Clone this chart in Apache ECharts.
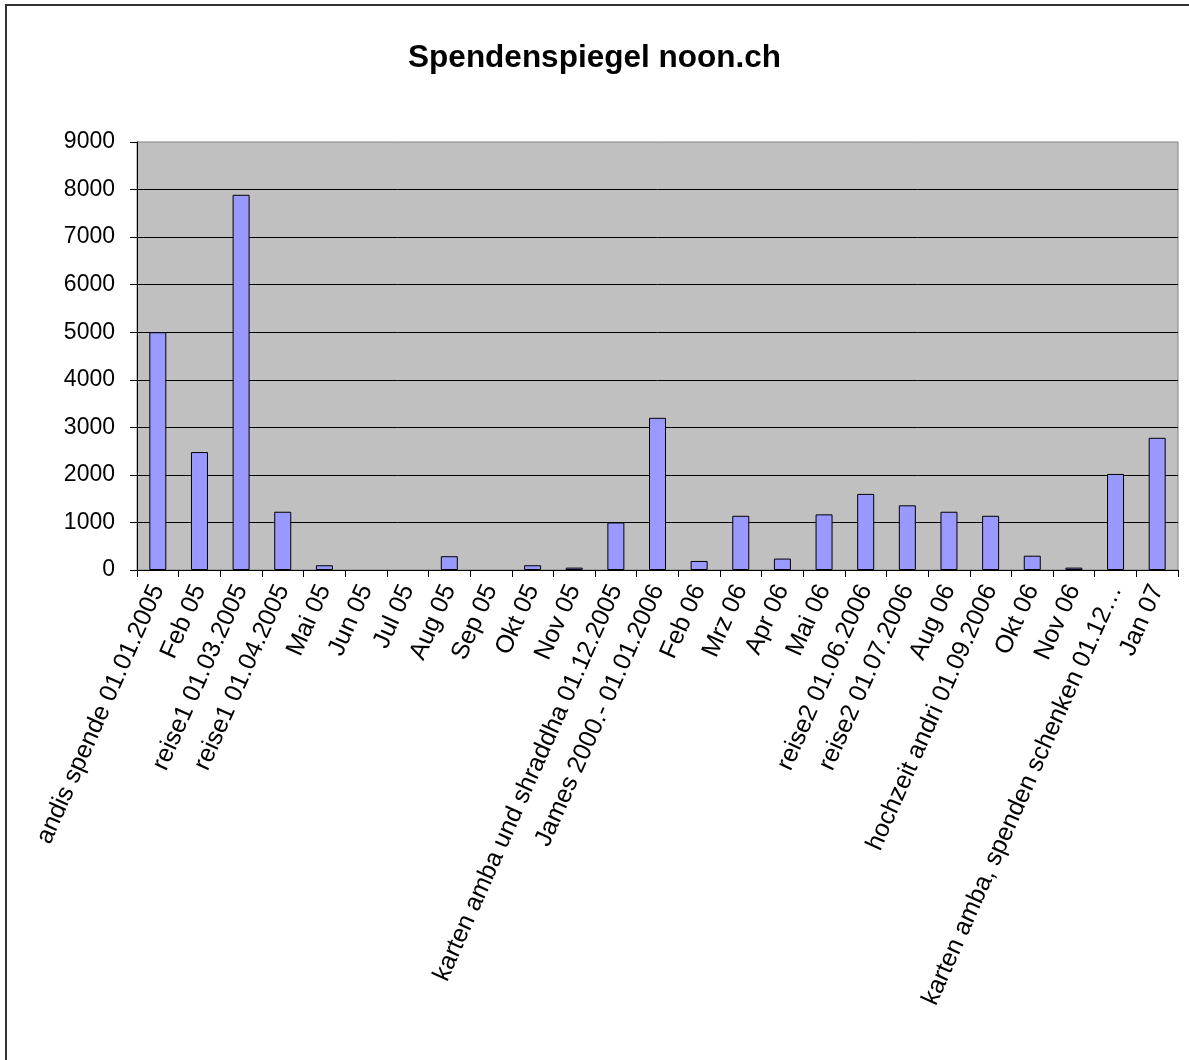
<!DOCTYPE html>
<html>
<head>
<meta charset="utf-8">
<script src="https://cdn.jsdelivr.net/npm/echarts@6/dist/echarts.min.js"></script>
<style>
  html, body { margin: 0; padding: 0; background: #fff; overflow: hidden; }
  #chart { width: 1189px; height: 1060px; }
</style>
</head>
<body>
<div id="chart"></div>
<script>
// Kategorien (Monate / Anlässe)
const categories = [
  'andis spende 01.01.2005', 'Feb 05', 'reise1 01.03.2005', 'reise1 01.04.2005',
  'Mai 05', 'Jun 05', 'Jul 05', 'Aug 05', 'Sep 05', 'Okt 05', 'Nov 05',
  'karten amba und shraddha 01.12.2005', 'James 2000.- 01.01.2006', 'Feb 06',
  'Mrz 06', 'Apr 06', 'Mai 06', 'reise2 01.06.2006', 'reise2 01.07.2006',
  'Aug 06', 'hochzeit andri 01.09.2006', 'Okt 06', 'Nov 06',
  'karten amba, spenden schenken 01.12…', 'Jan 07'
]

// Spenden pro Kategorie
const spenden = [
  5000, 2480, 7890, 1225, 100, 0, 0, 290, 0, 100, 50, 1000,
  3200, 190, 1140, 240, 1170, 1600, 1360, 1225, 1140, 300, 50, 2020, 2780
]

const yTicks = { min: 0, max: 9000, interval: 1000 }

const chartDom = document.getElementById('chart')
const chart = echarts.init(chartDom)

const font = 'Liberation Sans, Arial, sans-serif'

// Nullwerte ohne Rand, sonst sieht man einen Strich auf der Achse
const barData = spenden.map((v) =>
  v === 0 ? { value: v, itemStyle: { borderWidth: 0 } } : v
)

const option = {
  animation: false,
  backgroundColor: '#fff',
  title: {
    text: 'Spendenspiegel noon.ch',
    left: 'center',
    top: 37,
    textStyle: {
      fontFamily: font,
      fontSize: 31.5,
      fontWeight: 'bold',
      color: '#000'
    }
  },
  graphic: [
    // Rahmen links und oben
    {
      type: 'polyline',
      shape: { points: [[6, 1060], [6, 5], [1189, 5]] },
      style: { stroke: '#333', lineWidth: 2, fill: null }
    }
  ],
  grid: {
    left: 137,
    right: 11,
    top: 142,
    bottom: 490,
    show: true,
    backgroundColor: '#c0c0c0',
    borderColor: '#808080',
    borderWidth: 1
  },
  xAxis: {
    type: 'category',
    data: categories,
    boundaryGap: true,
    axisLine: { lineStyle: { color: '#000', width: 1 } },
    axisTick: {
      show: true,
      interval: 0,
      length: 7,
      alignWithLabel: false,
      lineStyle: { color: '#000' }
    },
    axisLabel: {
      interval: 0,
      rotate: 66,
      margin: 16,
      fontFamily: font,
      fontSize: 25,
      color: '#000'
    }
  },
  yAxis: {
    type: 'value',
    min: yTicks.min,
    max: yTicks.max,
    interval: yTicks.interval,
    axisLine: { show: true, lineStyle: { color: '#000', width: 1 } },
    axisTick: { show: true, length: 7, lineStyle: { color: '#000' } },
    axisLabel: {
      margin: 22,
      fontFamily: font,
      fontSize: 23,
      color: '#000',
      formatter: (v) => String(v)
    },
    splitLine: {
      show: true,
      showMaxLine: false,
      lineStyle: { color: '#000', width: 1 }
    }
  },
  series: [
    {
      name: 'Spenden',
      type: 'bar',
      data: barData,
      barWidth: 17,
      itemStyle: {
        color: '#9999ff',
        borderColor: '#000',
        borderWidth: 1
      }
    }
  ]
}

option && chart.setOption(option)
</script>
</body>
</html>
